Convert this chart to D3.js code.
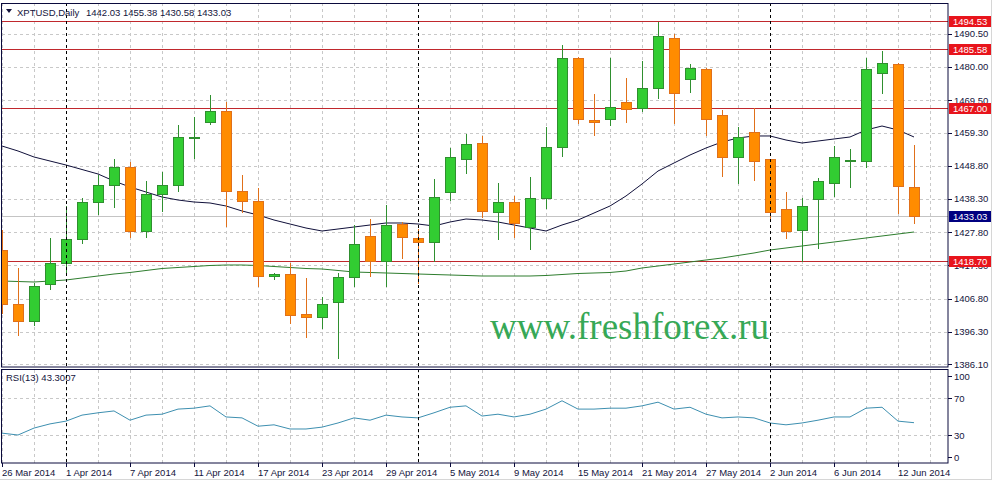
<!DOCTYPE html>
<html>
<head>
    <meta charset="utf-8">
    <style>
        body {
            margin: 0;
            background: #ffffff;
        }

        svg {
            display: block;
            font-family: Tahoma, 'Liberation Sans', Arial, sans-serif;
            font-size: 9.5px;
        }

        .lbl {
            fill: #14143c;
        }

        .grid {
            stroke: #c8c8c8;
            stroke-width: 1;
            stroke-dasharray: 3, 3;
        }
    </style>
</head>

<body>
    <svg width="993" height="483"></svg>

    <script src="https://d3js.org/d3.v7.min.js"></script>
    <script>
        // bars, one per trading day
        const dates = ["26 Mar 2014", "27 Mar 2014", "28 Mar 2014", "31 Mar 2014",
            "1 Apr 2014", "2 Apr 2014", "3 Apr 2014", "4 Apr 2014", "7 Apr 2014", "8 Apr 2014", "9 Apr 2014",
            "10 Apr 2014", "11 Apr 2014", "14 Apr 2014", "15 Apr 2014", "16 Apr 2014", "17 Apr 2014",
            "18 Apr 2014", "21 Apr 2014", "22 Apr 2014", "23 Apr 2014", "24 Apr 2014", "25 Apr 2014",
            "28 Apr 2014", "29 Apr 2014", "30 Apr 2014",
            "1 May 2014", "2 May 2014", "5 May 2014", "6 May 2014", "7 May 2014", "8 May 2014", "9 May 2014",
            "12 May 2014", "13 May 2014", "14 May 2014", "15 May 2014", "16 May 2014", "19 May 2014",
            "20 May 2014", "21 May 2014", "22 May 2014", "23 May 2014", "26 May 2014", "27 May 2014",
            "28 May 2014", "29 May 2014", "30 May 2014",
            "2 Jun 2014", "3 Jun 2014", "4 Jun 2014", "5 Jun 2014", "6 Jun 2014", "9 Jun 2014",
            "10 Jun 2014", "11 Jun 2014", "12 Jun 2014", "13 Jun 2014"];

        const open = [1422.17, 1405.11, 1399.74, 1411.43, 1418.07, 1425.65, 1437.34, 1442.71, 1448.40, 1428.18,
            1439.87, 1442.71, 1457.56, 1462.62, 1466.09, 1440.82, 1437.66, 1413.96, 1414.59, 1401.96,
            1401.01, 1405.74, 1413.64, 1426.60, 1418.70, 1430.39, 1425.97, 1424.70, 1440.50, 1450.93,
            1455.98, 1434.18, 1437.34, 1429.44, 1438.61, 1454.72, 1482.84, 1463.25, 1463.57, 1468.99,
            1467.04, 1473.36, 1489.16, 1476.20, 1479.36, 1464.83, 1451.56, 1459.46, 1450.93, 1435.13,
            1428.49, 1438.29, 1443.35, 1450.29, 1450.29, 1478.10, 1480.94, 1442.03];
        const high = [1428.49, 1416.49, 1411.75, 1425.97, 1436.08, 1438.61, 1445.87, 1450.93, 1449.98, 1443.97,
            1446.82, 1461.67, 1464.20, 1471.15, 1468.99, 1445.87, 1441.76, 1414.91, 1418.07, 1413.33,
            1407.32, 1414.91, 1430.07, 1431.97, 1436.39, 1431.00, 1428.81, 1444.61, 1454.40, 1458.83,
            1458.20, 1443.35, 1439.24, 1445.24, 1461.04, 1486.95, 1483.16, 1471.46, 1482.84, 1476.52,
            1481.89, 1494.21, 1490.42, 1480.94, 1479.68, 1466.41, 1461.04, 1467.04, 1450.93, 1440.50,
            1438.61, 1444.92, 1455.03, 1454.09, 1482.84, 1485.05, 1481.26, 1455.38];
        const low = [1402.27, 1395.32, 1398.48, 1409.85, 1414.91, 1424.39, 1433.55, 1435.76, 1426.28, 1426.28,
            1434.50, 1440.82, 1451.24, 1461.99, 1429.76, 1434.18, 1410.80, 1413.01, 1399.11, 1394.69,
            1397.53, 1388.05, 1410.80, 1413.96, 1410.80, 1419.65, 1411.75, 1418.70, 1437.97, 1446.50,
            1432.60, 1425.65, 1426.28, 1422.49, 1435.44, 1451.88, 1462.30, 1458.51, 1461.67, 1462.62,
            1466.09, 1470.20, 1462.30, 1472.10, 1458.51, 1445.56, 1443.35, 1444.29, 1432.29, 1425.97,
            1418.70, 1422.81, 1439.24, 1442.08, 1448.40, 1471.78, 1433.86, 1430.58];
        const close = [1405.11, 1399.74, 1410.80, 1418.07, 1425.65, 1437.34, 1442.71, 1448.40, 1428.18, 1439.87,
            1442.71, 1457.88, 1457.88, 1466.09, 1440.82, 1437.66, 1413.96, 1414.59, 1401.64, 1401.01,
            1405.11, 1413.64, 1424.07, 1418.70, 1430.07, 1426.28, 1424.70, 1438.92, 1451.56, 1455.67,
            1434.50, 1437.34, 1430.71, 1438.61, 1454.72, 1482.84, 1463.57, 1462.62, 1467.36, 1466.73,
            1473.36, 1489.79, 1471.78, 1479.68, 1463.57, 1451.56, 1457.88, 1450.29, 1434.18, 1428.18,
            1436.08, 1443.97, 1451.56, 1450.61, 1479.36, 1481.26, 1442.40, 1433.03];

        // moving averages (dark = fast, green = slow)
        const maFast = [1455.03, 1453.46, 1451.56, 1450.29, 1449.03, 1447.61, 1446.19, 1443.97, 1442.08, 1440.50,
            1438.92, 1437.97, 1437.34, 1437.03, 1436.08, 1434.50, 1433.23, 1431.65, 1430.39, 1429.12,
            1428.18, 1428.81, 1429.44, 1430.07, 1430.71, 1430.71, 1430.39, 1429.76, 1431.02, 1431.97,
            1431.65, 1431.02, 1430.07, 1429.12, 1428.18, 1430.07, 1431.65, 1433.86, 1436.08, 1439.24,
            1443.03, 1447.13, 1449.66, 1452.19, 1454.40, 1456.30, 1457.56, 1458.20, 1458.20, 1456.93,
            1455.98, 1456.61, 1457.25, 1457.88, 1460.09, 1461.35, 1460.09, 1457.88];
        const maSlow = [1412.38, 1412.22, 1412.06, 1412.38, 1412.70, 1413.33, 1413.96, 1414.59, 1415.07, 1415.70,
            1416.33, 1416.65, 1416.96, 1417.28, 1417.44, 1417.44, 1417.28, 1416.96, 1416.65, 1416.33,
            1416.17, 1415.70, 1415.22, 1415.07, 1414.91, 1414.75, 1414.59, 1414.43, 1414.28, 1414.12,
            1413.96, 1413.96, 1413.96, 1413.96, 1414.12, 1414.43, 1414.75, 1414.91, 1415.07, 1415.54,
            1416.49, 1417.12, 1417.75, 1418.38, 1419.02, 1419.65, 1420.44, 1421.23, 1422.17, 1422.81,
            1423.44, 1424.07, 1424.70, 1425.34, 1425.97, 1426.60, 1427.23, 1427.86];

        const rsi = [32, 30, 37.5, 42, 45, 51.5, 54, 56, 46, 51.5,
            52.5, 58, 59, 61.5, 49.5, 48.5, 39.5, 41, 36.5, 36.5,
            38.5, 43, 48.5, 46, 51.5, 49.5, 48.5, 54, 60, 61.5,
            50.5, 52.5, 49.5, 52.5, 58, 67, 58, 58, 59, 59,
            61.5, 65.5, 58, 60, 52.5, 48.5, 49.5, 48.5, 43, 41,
            43, 46, 49.5, 49.5, 59, 60, 45, 43.3007];

        const priceTicks = [1490.50, 1480.00, 1469.50, 1459.30, 1448.80, 1438.30, 1427.80, 1417.30, 1406.80, 1396.30, 1386.10];
        const levels = [1494.53, 1485.58, 1467.00, 1418.70];
        const lastPrice = 1433.03;
        const rsiTicks = [100, 70, 30, 0];
        const rsiGrid = [70, 30];
        const dateTicks = ["26 Mar 2014", "1 Apr 2014", "7 Apr 2014", "11 Apr 2014", "17 Apr 2014", "23 Apr 2014",
            "29 Apr 2014", "5 May 2014", "9 May 2014", "15 May 2014", "21 May 2014", "27 May 2014",
            "2 Jun 2014", "6 Jun 2014", "12 Jun 2014"];

        // panel edges
        const L = 2, R = 948, mainTop = 3, mainBot = 367, rsiTop = 370, rsiBot = 463;

        let svg = d3.select("svg");

        let x = d3.scaleLinear().domain([0, dates.length - 1]).range([2, 914]);
        let y = d3.scaleLinear().domain([1418.70, 1494.53]).range([261, 21]);
        let yR = d3.scaleLinear().domain([0, 100]).range([462.75, 370.25]);

        const snap = v => Math.round(v) + 0.5;

        svg.append("clipPath").attr("id", "clipMain")
            .append("rect").attr("x", L).attr("y", mainTop).attr("width", R - L).attr("height", mainBot - mainTop);
        svg.append("clipPath").attr("id", "clipRsi")
            .append("rect").attr("x", L).attr("y", rsiTop).attr("width", R - L).attr("height", rsiBot - rsiTop);

        let main = svg.append("g").attr("clip-path", "url(#clipMain)");
        let sub = svg.append("g").attr("clip-path", "url(#clipRsi)");

        // grid, vertical every 2 bars
        let gridIdx = d3.range(0, dates.length + 1, 2);
        [main, sub].forEach(g => {
            g.selectAll(".vgrid")
                .data(gridIdx)
                .join("line")
                .attr("class", "grid")
                .attr("x1", d => snap(x(d))).attr("x2", d => snap(x(d)))
                .attr("y1", g === main ? mainTop : rsiTop)
                .attr("y2", g === main ? mainBot : rsiBot);
        });

        main.selectAll(".hgrid")
            .data(priceTicks)
            .join("line")
            .attr("class", "grid")
            .attr("x1", L).attr("x2", R)
            .attr("y1", d => snap(y(d))).attr("y2", d => snap(y(d)));

        sub.selectAll(".hgrid")
            .data(rsiGrid)
            .join("line")
            .attr("class", "grid")
            .attr("x1", L).attr("x2", R)
            .attr("y1", d => snap(yR(d))).attr("y2", d => snap(yR(d)));

        // month separators
        let sepIdx = dates.map((d, i) => i).filter(i => i > 0 && dates[i].split(" ")[1] !== dates[i - 1].split(" ")[1]);
        svg.selectAll(".sep")
            .data(sepIdx)
            .join("line")
            .attr("x1", d => snap(x(d))).attr("x2", d => snap(x(d)))
            .attr("y1", mainTop).attr("y2", rsiBot)
            .style("stroke", "#000")
            .style("stroke-dasharray", "3,3")
            .style("stroke-width", 1);

        // bid line
        main.append("line")
            .attr("x1", L).attr("x2", R)
            .attr("y1", snap(y(lastPrice))).attr("y2", snap(y(lastPrice)))
            .style("stroke", "#c4c4c4");

        // support / resistance
        main.selectAll(".level")
            .data(levels)
            .join("line")
            .attr("x1", L).attr("x2", R)
            .attr("y1", d => snap(y(d))).attr("y2", d => snap(y(d)))
            .style("stroke", "#c0282d")
            .style("stroke-width", 1);

        // moving averages
        let line = arr => d3.line().x((d, i) => x(i)).y(d => y(d))(arr);
        main.append("path").attr("d", line(maSlow))
            .style("fill", "none").style("stroke", "#2e7d2e").style("stroke-width", 1);
        main.append("path").attr("d", line(maFast))
            .style("fill", "none").style("stroke", "#10103a").style("stroke-width", 1);

        // candles
        let bars = dates.map((d, i) => ({ i, o: open[i], h: high[i], l: low[i], c: close[i] }));
        let up = d => d.c >= d.o;

        main.selectAll(".wick")
            .data(bars)
            .join("line")
            .attr("x1", d => snap(x(d.i))).attr("x2", d => snap(x(d.i)))
            .attr("y1", d => Math.round(y(d.h))).attr("y2", d => Math.round(y(d.l)) + 1)
            .style("stroke", d => up(d) ? "#2f8f2f" : "#e0701a");

        main.selectAll(".body")
            .data(bars)
            .join("rect")
            .attr("x", d => Math.round(x(d.i)) - 4.5)
            .attr("width", 10)
            .attr("y", d => Math.round(y(Math.max(d.o, d.c))) + 0.5)
            .attr("height", d => Math.max(1, Math.round(y(Math.min(d.o, d.c))) - Math.round(y(Math.max(d.o, d.c)))))
            .style("fill", d => up(d) ? "#32cd32" : "#ff8c00")
            .style("stroke", d => up(d) ? "#2f8f2f" : "#e0701a");

        // watermark
        svg.append("text")
            .attr("x", 490).attr("y", 339)
            .style("font-family", "'Liberation Serif', 'Times New Roman', serif")
            .style("font-size", "37px")
            .style("fill", "#36a856")
            .text("www.freshforex.ru");

        // rsi line
        sub.append("path")
            .attr("d", d3.line().x((d, i) => x(i)).y(d => yR(d))(rsi))
            .style("fill", "none").style("stroke", "#3d8fb0").style("stroke-width", 1);

        // frames
        svg.append("rect").attr("x", 1.5).attr("y", mainTop + 0.5).attr("width", R - 1.5).attr("height", mainBot - mainTop - 0.5)
            .style("fill", "none").style("stroke", "#0a0a3c");
        svg.append("rect").attr("x", 1.5).attr("y", rsiTop - 0.5).attr("width", R - 1.5).attr("height", rsiBot - rsiTop + 0.5)
            .style("fill", "none").style("stroke", "#0a0a3c");
        svg.append("line").attr("x1", 991.5).attr("x2", 991.5).attr("y1", 0).attr("y2", 480)
            .style("stroke", "#d6d6d6");
        svg.append("line").attr("x1", 0).attr("x2", 992).attr("y1", 479.5).attr("y2", 479.5)
            .style("stroke", "#d6d6d6");

        // price axis
        let pAxis = svg.append("g");
        pAxis.selectAll("line")
            .data(priceTicks)
            .join("line")
            .attr("x1", R).attr("x2", R + 4)
            .attr("y1", d => snap(y(d))).attr("y2", d => snap(y(d)))
            .style("stroke", "#0a0a3c");
        pAxis.selectAll("text")
            .data(priceTicks)
            .join("text")
            .attr("class", "lbl")
            .attr("x", R + 6)
            .attr("y", d => y(d) + 3.5)
            .text(d => d3.format(".2f")(d));

        // level tags
        let tags = levels.map(v => ({ v, col: "#e8141c" })).concat([{ v: lastPrice, col: "#000080" }]);
        let tagG = svg.selectAll(".tag")
            .data(tags)
            .join("g");
        tagG.append("rect")
            .attr("x", R + 1).attr("width", 42)
            .attr("y", d => Math.round(y(d.v)) - 5).attr("height", 11)
            .style("fill", d => d.col);
        tagG.append("text")
            .attr("x", R + 5)
            .attr("y", d => Math.round(y(d.v)) + 4)
            .style("fill", "#fff")
            .text(d => d3.format(".2f")(d.v));

        // rsi axis
        let rAxis = svg.append("g");
        rAxis.selectAll("line")
            .data(rsiTicks)
            .join("line")
            .attr("x1", R).attr("x2", R + 4)
            .attr("y1", d => snap(Math.min(Math.max(yR(d), 376), 457)))
            .attr("y2", d => snap(Math.min(Math.max(yR(d), 376), 457)))
            .style("stroke", "#0a0a3c");
        rAxis.selectAll("text")
            .data(rsiTicks)
            .join("text")
            .attr("class", "lbl")
            .attr("x", R + 6)
            .attr("y", d => Math.min(Math.max(yR(d), 376), 457) + 3.5)
            .text(d => d);

        // date axis
        let dAxis = svg.append("g");
        dAxis.selectAll("line")
            .data(dateTicks)
            .join("line")
            .attr("x1", d => snap(x(dates.indexOf(d)))).attr("x2", d => snap(x(dates.indexOf(d))))
            .attr("y1", rsiBot).attr("y2", rsiBot + 4)
            .style("stroke", "#0a0a3c");
        dAxis.selectAll("text")
            .data(dateTicks)
            .join("text")
            .attr("class", "lbl")
            .attr("x", d => x(dates.indexOf(d)))
            .attr("y", 476)
            .text(d => d);

        // header texts
        svg.append("path")
            .attr("d", "M6,9 L12,9 L9,13 Z")
            .style("fill", "#14143c");
        svg.append("text")
            .attr("class", "lbl")
            .attr("x", 17).attr("y", 15.5)
            .text("XPTUSD,Daily");
        svg.append("text")
            .attr("class", "lbl")
            .attr("x", 86).attr("y", 15.5)
            .text([open, high, low, close].map(a => a[a.length - 1].toFixed(2)).join(" "));
        svg.append("text")
            .attr("class", "lbl")
            .attr("x", 6).attr("y", 381)
            .text("RSI(13) " + rsi[rsi.length - 1].toFixed(4));
    </script>
</body>
</html>
